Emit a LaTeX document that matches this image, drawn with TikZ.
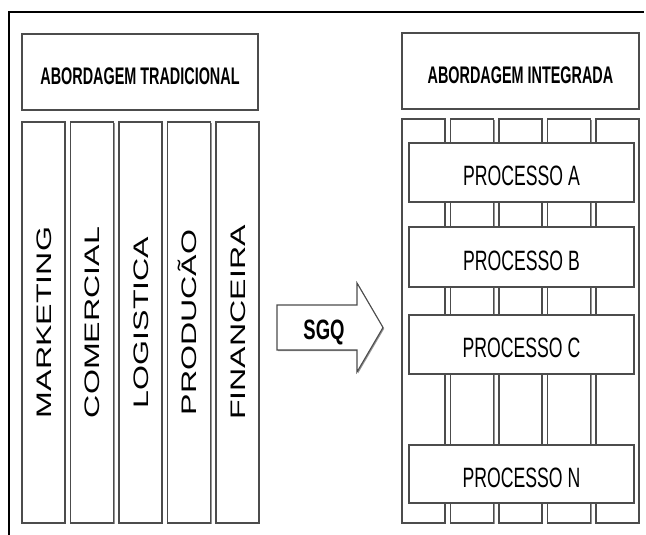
\documentclass[tikz,border=0pt]{standalone}
\usepackage{fontspec}
\setmainfont{Liberation Sans}
\usetikzlibrary{shadows}
\begin{document}
\begin{tikzpicture}[x=1pt,y=-1pt,
  box/.style={draw=black!70, line width=1.1pt, fill=white, rectangle, inner sep=0pt,
    drop shadow={shadow xshift=1.2pt, shadow yshift=-1.2pt, fill=black!60, opacity=0.7}},
  colbox/.style={box, minimum width=43pt},
  hdtext/.style={anchor=base, inner sep=0pt, font=\fontsize{24}{24}\selectfont\bfseries},
  proctext/.style={anchor=base, inner sep=0pt, font=\fontsize{28}{28}\selectfont},
  coltext/.style={anchor=base, rotate=90, inner sep=0pt, font=\fontsize{21}{21}\selectfont},
  frame/.style={line width=2pt, black}
  ]
\useasboundingbox (0,0) rectangle (646,535);
% outer frame
\coordinate (fa) at (8,12);
\coordinate (fb) at (644,12);
\coordinate (fc) at (9,12);
\coordinate (fd) at (9,535);
\draw[frame] (fa) -- (fb);
\draw[frame] (fc) -- (fd);

% left side
\node[box, minimum width=236pt, minimum height=76pt] (hl) at (140,72) {};
\node[hdtext] (hlt) at (140,84.6) {\scalebox{0.6}[1]{ABORDAGEM TRADICIONAL}};

\foreach \i/\t in {0/MARKETING,1/COMERCIAL,2/LOGISTICA,3/PRODUCÃO,4/FINANCEIRA}{
  \pgfmathsetmacro{\cx}{43.5+48.5*\i}
  \node[colbox, minimum height=401pt] (lc\i) at (\cx,322.5) {};
  \node[coltext] (lt\i) at (\cx+7.5,322.5) {\scalebox{1.53}[1]{\t}};
}

% arrow
\draw[draw=black!70, line width=1.1pt, fill=white,
  drop shadow={shadow xshift=1.2pt, shadow yshift=-1.2pt, fill=black!60, opacity=0.7}]
  (277,305) -- (357,305) -- (357,283) -- (383,327.5) -- (357,372) -- (357,350) -- (277,350) -- cycle;
\node[anchor=base, inner sep=0pt, font=\fontsize{28}{28}\selectfont\bfseries] (sgq) at (324,339) {\scalebox{0.66}[1]{SGQ}};

% right side
\node[box, minimum width=237pt, minimum height=76pt] (hr) at (520.5,71) {};
\node[hdtext] (hrt) at (520.5,83.6) {\scalebox{0.6}[1]{ABORDAGEM INTEGRADA}};

\foreach \i in {0,...,4}{
  \pgfmathsetmacro{\cx}{423.5+48.5*\i}
  \node[colbox, minimum height=404pt] (rc\i) at (\cx,321) {};
}

\foreach \n/\cy/\h in {A/172.5/59, B/257/60, C/344.5/59, N/474/58}{
  \node[box, minimum width=225pt, minimum height=\h pt] (p\n) at (521.5,\cy) {};
  \node[proctext] (pt\n) at (521.5,\cy+13) {\scalebox{0.63}[1]{PROCESSO \n}};
}
\end{tikzpicture}
\end{document}
